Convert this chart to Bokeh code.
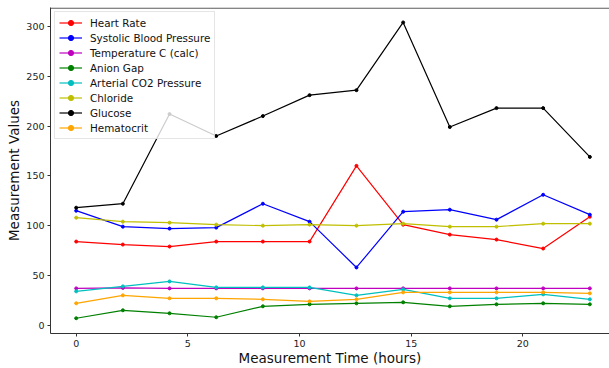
from bokeh.plotting import figure
from bokeh.models import Range1d, FixedTicker, Span
from bokeh.embed import file_html
from bokeh.resources import INLINE

hours = [0, 2.09, 4.18, 6.27, 8.36, 10.45, 12.55, 14.64, 16.73, 18.82, 20.91, 23.0]

heart_rate = [84, 81, 79, 84, 84, 84, 160, 101, 91, 86, 77, 109]
systolic_bp = [115, 99, 97, 98, 122, 104, 58, 114, 116, 106, 131, 111]
temperature = [37, 37.5, 37, 37, 37, 37, 37, 37, 37, 37, 37, 37]
anion_gap = [7, 15, 12, 8, 19, 21, 22, 23, 19, 21, 22, 21]
co2_pressure = [34, 39, 44, 38, 38, 38, 30, 36, 27, 27, 31, 26]
chloride = [108, 104, 103, 101, 100, 101, 100, 102, 99, 99, 102, 102]
glucose = [118, 122, 212, 190, 210, 231, 236, 304, 199, 218, 218, 169]
hematocrit = [22, 30, 27, 27, 26, 24, 26, 33, 33, 33, 33, 32]

series_names = ["Heart Rate", "Systolic Blood Pressure", "Temperature C (calc)",
                "Anion Gap", "Arterial CO2 Pressure", "Chloride", "Glucose", "Hematocrit"]
series_values = [heart_rate, systolic_bp, temperature, anion_gap, co2_pressure,
                 chloride, glucose, hematocrit]
series_colors = ["#ff0000", "#0000ff", "#bf00bf", "#008000", "#00bfbf", "#bfbf00",
                 "#000000", "#ffa500"]

y_ticks = [0, 50, 100, 150, 200, 250, 300]
x_ticks = [0, 5, 10, 15, 20]

FONT = "DejaVu Sans"
Y_START, Y_END = -8.3, 319.0

p = figure(width=609, height=368, output_backend="svg", toolbar_location=None,
           x_range=Range1d(-1.15, 23.88), y_range=Range1d(Y_START, Y_END),
           min_border_left=50, min_border_right=0, min_border_top=7,
           min_border_bottom=35)

for name, vals, col in zip(series_names, series_values, series_colors):
    p.line(hours, vals, line_color=col, line_width=1.2, legend_label=name)
    p.scatter(hours, vals, fill_color=col, line_color=col, size=3,
              legend_label=name)

p.grid.visible = False
p.background_fill_color = "white"
p.border_fill_color = "white"
p.outline_line_color = None

# top spine only (the right spine falls outside the picture)
p.add_layout(Span(location=Y_END - 0.6, dimension="width",
                  line_color="#333333", line_width=1))

for ax in (p.xaxis[0], p.yaxis[0]):
    ax.axis_line_color = "#333333"
    ax.axis_line_width = 1
    ax.major_tick_line_color = "#333333"
    ax.major_tick_in = 0
    ax.major_tick_out = 3
    ax.minor_tick_line_color = None
    ax.major_label_text_font = FONT
    ax.major_label_text_font_size = "9.5px"
    ax.major_label_text_color = "#222222"
    ax.axis_label_text_font = FONT
    ax.axis_label_text_font_size = "13.5px"
    ax.axis_label_text_font_style = "normal"
    ax.axis_label_text_color = "#111111"

p.xaxis.ticker = FixedTicker(ticks=x_ticks)
p.yaxis.ticker = FixedTicker(ticks=y_ticks)
p.xaxis.axis_label = "Measurement Time (hours)"
p.yaxis.axis_label = "Measurement Values"
p.xaxis.major_label_standoff = 3
p.xaxis.axis_label_standoff = 0
p.yaxis.major_label_standoff = 3
p.yaxis.axis_label_standoff = 1

lg = p.legend[0]
lg.location = "top_left"
lg.margin = 4
lg.padding = 4
lg.spacing = 2
lg.glyph_height = 13
lg.label_height = 13
lg.glyph_width = 23
lg.label_standoff = 8
lg.label_text_font = FONT
lg.label_text_font_size = "10.4px"
lg.label_text_color = "#111111"
lg.background_fill_color = "white"
lg.background_fill_alpha = 0.8
lg.border_line_color = "#cccccc"
lg.border_line_width = 1

open("out.html", "w").write(file_html(p, INLINE))
